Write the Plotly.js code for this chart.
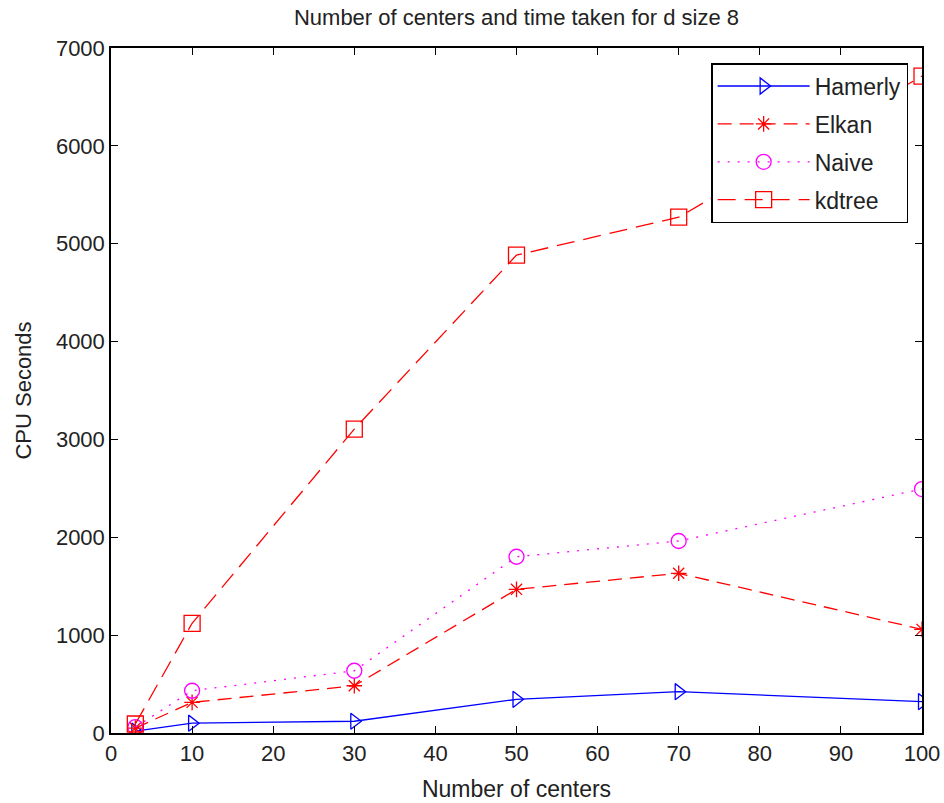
<!DOCTYPE html>
<html><head><meta charset="utf-8">
<script src="https://cdn.plot.ly/plotly-3.0.1.min.js"></script>
<style>body{margin:0;background:#fff}#c{width:944px;height:803px}</style>
</head><body><div id="c"></div>
<script>
var centers = [3, 10, 30, 50, 70, 100];
var hamerly = [20, 100, 120, 344, 422, 320];
var elkan = [50, 313, 483, 1468, 1632, 1059];
var naive = [60, 432, 636, 1801, 1962, 2493];
var kdtree = [92, 1121, 3106, 4883, 5271, 6713];
var xTicks = [0,10,20,30,40,50,60,70,80,90,100];
var yTicks = [0,1000,2000,3000,4000,5000,6000,7000];

var F = '"Liberation Sans Narrow", "Liberation Sans", Arial, sans-serif';
var traces = [
  {x: centers, y: hamerly, name: 'Hamerly', legendgroup: 'a', mode: 'lines+markers',
   line: {color: '#0000ff', width: 1.3, dash: 'solid'},
   marker: {symbol: 'triangle-right-open', size: 14, color: '#0000ff', line: {width: 1.3}}},
  {x: centers, y: elkan, name: 'Elkan', legendgroup: 'b', mode: 'lines+markers',
   line: {color: '#ff0000', width: 1.3, dash: '14px,8px'},
   marker: {symbol: 'asterisk-open', size: 13, color: '#ff0000', line: {width: 1.3, color: '#ff0000'}}},
  {x: centers, y: naive, name: 'Naive', legendgroup: 'c', mode: 'lines+markers',
   line: {color: '#ff00ff', width: 1.3, dash: '2px,8px'},
   marker: {symbol: 'circle-open', size: 15, color: '#ff00ff', line: {width: 1.3}}},
  {x: centers, y: kdtree, name: 'kdtree', legendgroup: 'd', mode: 'lines+markers',
   line: {color: '#ff0000', width: 1.3, dash: '18px,9px'},
   marker: {symbol: 'square-open', size: 16, color: '#ff0000', line: {width: 1.3}}}
];
var axisCommon = {showgrid: false, zeroline: false, showline: true, mirror: 'ticks',
  linecolor: '#000', linewidth: 1.5, ticks: 'inside', ticklen: 7, tickcolor: '#000', tickwidth: 1.3,
  tickfont: {family: F, size: 22, color: '#222'}};
var layout = {
  width: 944, height: 803,
  margin: {l: 111, r: 22, t: 48, b: 70},
  paper_bgcolor: '#fff', plot_bgcolor: '#fff',
  font: {family: F, color: '#000'},
  title: {text: 'Number of centers and time taken for d size 8', font: {family: F, size: 22, color: '#222'},
          x: 0.5, xref: 'paper', y: 0.988, yanchor: 'top'},
  xaxis: Object.assign({}, axisCommon, {range: [0, 100], tickvals: xTicks, ticktext: xTicks.map(String),
          title: {text: 'Number of centers', font: {family: F, size: 23, color: '#222'}, standoff: 16}}),
  yaxis: Object.assign({}, axisCommon, {range: [0, 7000], tickvals: yTicks, ticktext: yTicks.map(String),
          title: {text: 'CPU Seconds', font: {family: F, size: 22, color: '#222'}, standoff: 18}}),
  showlegend: true,
  legend: {x: 0.74, y: 0.978, xanchor: 'left', yanchor: 'top', bgcolor: '#fff', bordercolor: '#000', borderwidth: 1.5,
           font: {family: F, size: 23, color: '#222'}, itemwidth: 92, tracegroupgap: 5, traceorder: 'grouped'}
};
Plotly.newPlot('c', traces, layout, {displayModeBar: false});
</script></body></html>
